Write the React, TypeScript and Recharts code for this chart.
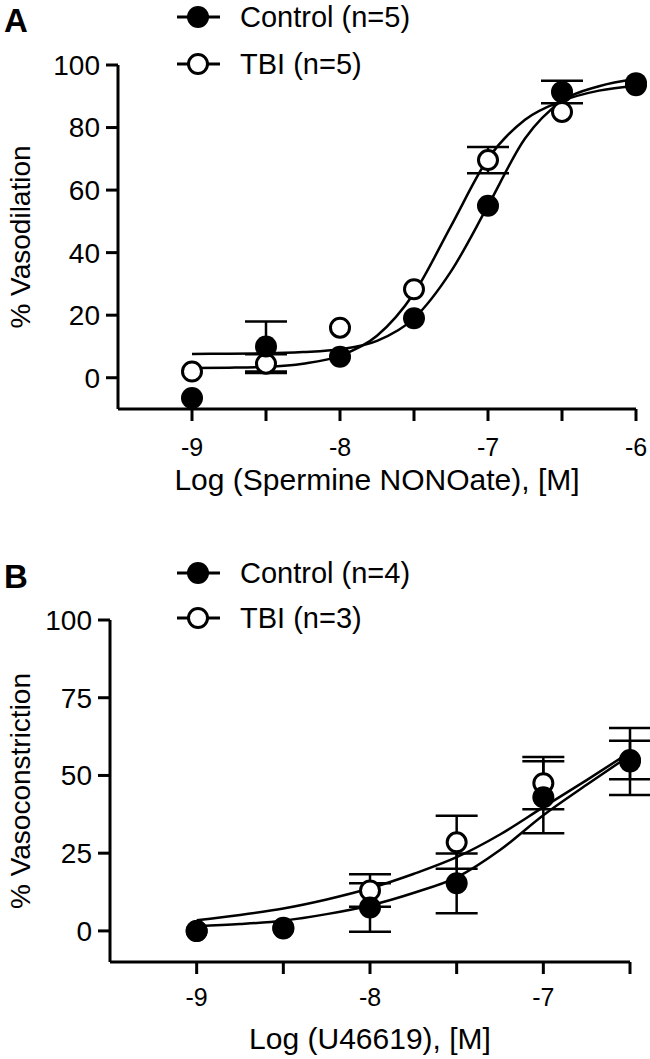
import React from 'react';
import { ComposedChart, Line, Scatter, XAxis, YAxis, ErrorBar, Legend } from 'recharts';

const FONT = '"Liberation Sans", Arial, Helvetica, sans-serif';

// Panel A: Spermine NONOate, % vasodilation
const doseA = [-9, -8.5, -8, -7.5, -7, -6.5, -6];
const controlA = [-6.5, 10, 6.7, 19, 55, 91.4, 94.2];
const controlSemA = [0, 8, 0, 0, 0, 3.6, 0];
const tbiA = [2, 4.5, 16, 28.3, 69.6, 85, 93.5];
const tbiSemA = [0, 3, 0, 0, 4.2, 0, 0];

const fitDoseA = [-9, -8.75, -8.5, -8.25, -8, -7.75, -7.5, -7.25, -7, -6.75, -6.5, -6.25, -6];
const controlFitA = [7.6, 7.7, 7.8, 8.2, 9.1, 11.8, 19, 34, 55, 76.5, 88.5, 93.2, 95.5];
const tbiFitA = [3.1, 3.2, 3.5, 4.5, 7, 13.4, 27, 48.5, 70, 82.5, 88.5, 91.8, 93.3];

const xTicksA = [-9, -8.5, -8, -7.5, -7, -6.5, -6];
const yTicksA = [0, 20, 40, 60, 80, 100];
const legendA = ['Control (n=5)', 'TBI (n=5)'];

// Panel B: U46619, % vasoconstriction
const doseB = [-9, -8.5, -8, -7.5, -7, -6.5];
const controlB = [0, 0.8, 7.5, 15.3, 43, 54.5];
const controlSemB = [0, 0, 7.8, 9.6, 11.6, 10.8];
const tbiB = [0, 1, 13, 28.5, 47.5, 55];
const tbiSemB = [0, 0, 5.2, 8.5, 8.4, 6.2];

const fitDoseB = [-9, -8.75, -8.5, -8.25, -8, -7.75, -7.5, -7.25, -7, -6.75, -6.5];
const controlFitB = [1.5, 2.2, 3.3, 5.4, 8.2, 12.2, 17.2, 26, 37.2, 47, 56.5];
const tbiFitB = [3.4, 5.1, 7.2, 10.1, 13.7, 18.3, 23.7, 31, 39.8, 48.5, 57.5];

const xTicksB = [-9, -8.5, -8, -7.5, -7, -6.5];
const yTicksB = [0, 25, 50, 75, 100];
const legendB = ['Control (n=4)', 'TBI (n=3)'];

type Pt = { x: number; y: number; err?: number };

const toPoints = (xs: number[], ys: number[], errs?: number[]): Pt[] =>
  xs.map((x, i) => ({ x, y: ys[i], err: errs && errs[i] ? errs[i] : undefined }));

const FilledDot = (p: any) => <circle cx={p.cx} cy={p.cy} r={11} fill="#000" />;
const OpenDot = (p: any) => (
  <circle cx={p.cx} cy={p.cy} r={9.5} fill="#fff" stroke="#000" strokeWidth={3} />
);

function LegendBox({ labels, gap }: { labels: string[]; gap: number }) {
  return (
    <svg width={280} height={100}>
      {labels.map((label, i) => {
        const cy = 17 + i * gap;
        return (
          <g key={label}>
            <line x1={7} x2={50} y1={cy} y2={cy} stroke="#000" strokeWidth={3} />
            {i === 0 ? (
              <circle cx={28} cy={cy} r={11} fill="#000" />
            ) : (
              <circle cx={28} cy={cy} r={9.5} fill="#fff" stroke="#000" strokeWidth={3} />
            )}
            <text x={70} y={cy} dominantBaseline="central" fontSize={29} fontFamily={FONT} fill="#000">
              {label}
            </text>
          </g>
        );
      })}
    </svg>
  );
}

interface PanelProps {
  top: number;
  height: number;
  marginTop: number;
  marginRight: number;
  yWidth: number;
  xHeight: number;
  xDomain: [number, number];
  xTicks: number[];
  yTicks: number[];
  control: Pt[];
  tbi: Pt[];
  controlFit: Pt[];
  tbiFit: Pt[];
  xLabel: string;
  yLabel: string;
  xLabelOffset: number;
  xTickMargin: number;
  legend: string[];
  legendTop: number;
  legendGap: number;
}

function Panel(p: PanelProps) {
  const axisStroke = { stroke: '#000', strokeWidth: 3 };
  return (
    <div style={{ position: 'absolute', left: 0, top: p.top }}>
      <ComposedChart
        width={650}
        height={p.height}
        margin={{ top: p.marginTop, right: p.marginRight, bottom: 0, left: 0 }}
      >
        <XAxis
          type="number"
          dataKey="x"
          domain={p.xDomain}
          ticks={p.xTicks}
          interval={0}
          height={p.xHeight}
          tickFormatter={(v: number) => (Number.isInteger(v) ? String(v) : '')}
          axisLine={axisStroke}
          tickLine={axisStroke}
          tickSize={12}
          tickMargin={p.xTickMargin}
          tick={{ fontSize: 25, fontFamily: FONT, fill: '#000' }}
          label={{
            value: p.xLabel,
            position: 'insideBottom',
            offset: p.xLabelOffset,
            style: { fontSize: 30, fontFamily: FONT, fill: '#000' },
          }}
        />
        <YAxis
          type="number"
          dataKey="y"
          domain={[-10, 100]}
          ticks={p.yTicks}
          interval={0}
          width={p.yWidth}
          axisLine={axisStroke}
          tickLine={axisStroke}
          tickSize={12}
          tickMargin={6}
          tick={{ fontSize: 28, fontFamily: FONT, fill: '#000' }}
          label={{
            value: p.yLabel,
            angle: -90,
            position: 'insideLeft',
            offset: 20,
            style: { textAnchor: 'middle', fontSize: 28, fontFamily: FONT, fill: '#000' },
          }}
        />
        <Legend
          layout="vertical"
          align="center"
          verticalAlign="middle"
          wrapperStyle={{ left: 170, top: p.legendTop, width: 280, height: 100 }}
          content={() => <LegendBox labels={p.legend} gap={p.legendGap} />}
        />
        <Line
          data={p.controlFit}
          dataKey="y"
          type="monotone"
          dot={false}
          stroke="#000"
          strokeWidth={2.5}
          isAnimationActive={false}
          legendType="none"
        />
        <Line
          data={p.tbiFit}
          dataKey="y"
          type="monotone"
          dot={false}
          stroke="#000"
          strokeWidth={2.5}
          isAnimationActive={false}
          legendType="none"
        />
        <Scatter data={p.tbi} shape={OpenDot} isAnimationActive={false}>
          <ErrorBar dataKey="err" direction="y" width={21} stroke="#000" strokeWidth={2.5} />
        </Scatter>
        <Scatter data={p.control} shape={FilledDot} isAnimationActive={false}>
          <ErrorBar dataKey="err" direction="y" width={21} stroke="#000" strokeWidth={2.5} />
        </Scatter>
      </ComposedChart>
    </div>
  );
}

const letterStyle: React.CSSProperties = {
  position: 'absolute',
  left: 4,
  fontFamily: FONT,
  fontWeight: 'bold',
  fontSize: 33,
  lineHeight: 1,
  color: '#000',
};

export default function App() {
  return (
    <div
      style={{
        position: 'absolute',
        left: 0,
        top: 0,
        width: 650,
        height: 1059,
        background: '#fff',
        overflow: 'hidden',
      }}
    >
      <Panel
        top={0}
        height={510}
        marginTop={65}
        marginRight={14}
        yWidth={118}
        xHeight={101}
        xDomain={[-9.5, -6]}
        xTicks={xTicksA}
        yTicks={yTicksA}
        control={toPoints(doseA, controlA, controlSemA)}
        tbi={toPoints(doseA, tbiA, tbiSemA)}
        controlFit={toPoints(fitDoseA, controlFitA)}
        tbiFit={toPoints(fitDoseA, tbiFitA)}
        xLabel="Log (Spermine NONOate), [M]"
        yLabel="% Vasodilation"
        xLabelOffset={20}
        xTickMargin={17}
        legend={legendA}
        legendTop={0}
        legendGap={47}
      />
      <Panel
        top={540}
        height={519}
        marginTop={80}
        marginRight={20}
        yWidth={110}
        xHeight={97}
        xDomain={[-9.5, -6.5]}
        xTicks={xTicksB}
        yTicks={yTicksB}
        control={toPoints(doseB, controlB, controlSemB)}
        tbi={toPoints(doseB, tbiB, tbiSemB)}
        controlFit={toPoints(fitDoseB, controlFitB)}
        tbiFit={toPoints(fitDoseB, tbiFitB)}
        xLabel="Log (U46619), [M]"
        yLabel="% Vasoconstriction"
        xLabelOffset={10}
        xTickMargin={14}
        legend={legendB}
        legendTop={16}
        legendGap={45}
      />
      <div style={{ ...letterStyle, top: 4 }}>A</div>
      <div style={{ ...letterStyle, top: 560 }}>B</div>
    </div>
  );
}
